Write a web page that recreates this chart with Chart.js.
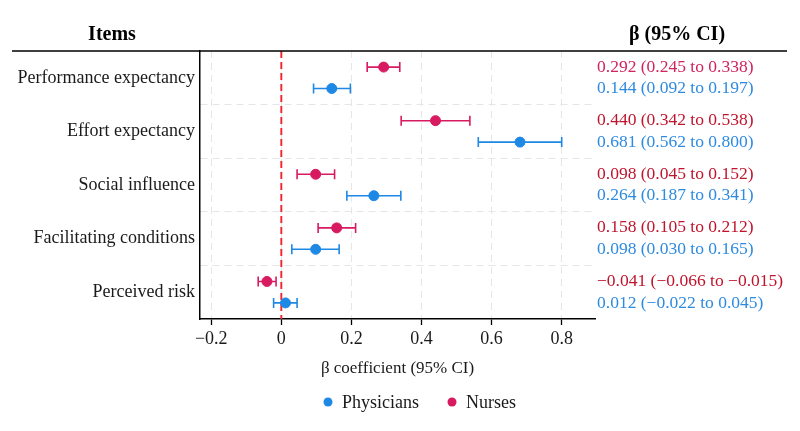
<!DOCTYPE html>
<html>
<head>
<meta charset="utf-8">
<script src="https://cdn.jsdelivr.net/npm/chart.js@4"></script>
<style>
  html, body { margin: 0; padding: 0; background: #fff; }
  #wrap { width: 800px; height: 431px; }
</style>
</head>
<body>
<div id="wrap"><canvas id="forest"></canvas></div>
<script>
// datos
const items = ['Performance expectancy', 'Effort expectancy', 'Social influence', 'Facilitating conditions', 'Perceived risk'];
const nurseBeta = [0.292, 0.440, 0.098, 0.158, -0.041];
const nurseLow  = [0.245, 0.342, 0.045, 0.105, -0.066];
const nurseHigh = [0.338, 0.538, 0.152, 0.212, -0.015];
const physBeta  = [0.144, 0.681, 0.264, 0.098, 0.012];
const physLow   = [0.092, 0.562, 0.187, 0.030, -0.022];
const physHigh  = [0.197, 0.800, 0.341, 0.165, 0.045];
const xTicks = [-0.2, 0, 0.2, 0.4, 0.6, 0.8];

const AZUL = '#1E88E5';
const ROJO = '#D81B60';
const FUENTE = '"Liberation Serif", "Times New Roman", serif';

function fmt(v) {
    return v.toFixed(3).replace('-', '\u2212');
}

const puntosNurse = nurseBeta.map((b, i) => ({x: b, y: i + 0.5 - 0.2, lo: nurseLow[i], hi: nurseHigh[i]}));
const puntosPhys = physBeta.map((b, i) => ({x: b, y: i + 0.5 + 0.2, lo: physLow[i], hi: physHigh[i]}));

// barras de error, linea del cero y textos laterales
const extras = {
    id: 'extras',
    beforeDatasetsDraw(chart) {
        const ctx = chart.ctx;
        const xs = chart.scales.x, ys = chart.scales.y;
        const area = chart.chartArea;

        // linea roja en cero
        ctx.save();
        ctx.strokeStyle = '#F0262E';
        ctx.lineWidth = 1.9;
        ctx.setLineDash([7, 4]);
        ctx.beginPath();
        ctx.moveTo(xs.getPixelForValue(0), area.top);
        ctx.lineTo(xs.getPixelForValue(0), area.bottom);
        ctx.stroke();
        ctx.restore();

        chart.data.datasets.forEach(ds => {
            ctx.save();
            ctx.strokeStyle = ds.borderColor;
            ctx.lineWidth = 1.6;
            ds.data.forEach(p => {
                const y = ys.getPixelForValue(p.y);
                const x1 = xs.getPixelForValue(p.lo), x2 = xs.getPixelForValue(p.hi);
                ctx.beginPath();
                ctx.moveTo(x1, y); ctx.lineTo(x2, y);
                ctx.moveTo(x1, y - 5); ctx.lineTo(x1, y + 5);
                ctx.moveTo(x2, y - 5); ctx.lineTo(x2, y + 5);
                ctx.stroke();
            });
            ctx.restore();
        });
    },
    afterDraw(chart) {
        const ctx = chart.ctx;
        const ys = chart.scales.y;
        const area = chart.chartArea;
        ctx.save();

        // encabezados
        ctx.fillStyle = '#000';
        ctx.font = 'bold 20px ' + FUENTE;
        ctx.textAlign = 'center';
        ctx.textBaseline = 'middle';
        ctx.fillText('Items', 112, 35);
        ctx.fillText('\u03B2 (95% CI)', 677, 35);

        ctx.strokeStyle = '#000';
        ctx.lineWidth = 1.5;
        ctx.beginPath();
        ctx.moveTo(12, area.top);
        ctx.lineTo(787, area.top);
        ctx.stroke();

        // etiquetas de items
        ctx.font = '18px ' + FUENTE;
        ctx.fillStyle = '#1a1a1a';
        ctx.textAlign = 'right';
        items.forEach((txt, i) => {
            ctx.fillText(txt, area.left - 5, ys.getPixelForValue(i + 0.5));
        });

        // texto de beta con IC
        ctx.font = '17.5px ' + FUENTE;
        ctx.textAlign = 'left';
        items.forEach((txt, i) => {
            ctx.fillStyle = i === 0 ? '#D0245E' : '#C0142D';
            ctx.fillText(fmt(nurseBeta[i]) + ' (' + fmt(nurseLow[i]) + ' to ' + fmt(nurseHigh[i]) + ')', 597, ys.getPixelForValue(i + 0.5 - 0.2));
            ctx.fillStyle = '#2E8BE0';
            ctx.fillText(fmt(physBeta[i]) + ' (' + fmt(physLow[i]) + ' to ' + fmt(physHigh[i]) + ')', 597, ys.getPixelForValue(i + 0.5 + 0.2));
        });

        // leyenda
        ctx.font = '18px ' + FUENTE;
        const leyenda = [['Physicians', AZUL, 328], ['Nurses', ROJO, 452]];
        leyenda.forEach(([nombre, color, x]) => {
            ctx.beginPath();
            ctx.fillStyle = color;
            ctx.arc(x, 402, 4.5, 0, Math.PI * 2);
            ctx.fill();
            ctx.fillStyle = '#1a1a1a';
            ctx.fillText(nombre, x + 14, 403);
        });
        ctx.restore();
    }
};

new Chart(document.getElementById('forest'), {
    type: 'scatter',
    data: {
        datasets: [
            {label: 'Physicians', data: puntosPhys, backgroundColor: AZUL, borderColor: AZUL, pointRadius: 5, pointHoverRadius: 5},
            {label: 'Nurses', data: puntosNurse, backgroundColor: ROJO, borderColor: ROJO, pointRadius: 5, pointHoverRadius: 5}
        ]
    },
    options: {
        responsive: true,
        maintainAspectRatio: false,
        animation: false,
        layout: {padding: {left: 200, right: 205, top: 51, bottom: 52}},
        plugins: {legend: {display: false}, tooltip: {enabled: false}},
        scales: {
            x: {
                type: 'linear',
                min: -0.232,
                max: 0.895,
                afterBuildTicks: scale => { scale.ticks = xTicks.map(v => ({value: v})); },
                ticks: {
                    color: '#1a1a1a',
                    font: {family: FUENTE, size: 18},
                    padding: 3,
                    callback: v => v === 0 ? '0' : String(v).replace('-', '\u2212')
                },
                grid: {color: '#e6e6e6', lineWidth: 1, tickColor: '#000', tickLength: 6, tickWidth: 1.3},
                border: {color: '#000', width: 1.5, dash: [7, 5]},
                title: {display: true, text: '\u03B2 coefficient (95% CI)', color: '#1a1a1a', font: {family: FUENTE, size: 17}, padding: {top: 6, bottom: 0}}
            },
            y: {
                type: 'linear',
                min: 0,
                max: 5,
                reverse: true,
                afterBuildTicks: scale => { scale.ticks = [1, 2, 3, 4].map(v => ({value: v})); },
                ticks: {display: false},
                grid: {color: '#e6e6e6', lineWidth: 1, drawTicks: false},
                border: {color: '#000', width: 1.5, dash: [7, 5]}
            }
        }
    },
    plugins: [extras]
});
</script>
</body>
</html>
